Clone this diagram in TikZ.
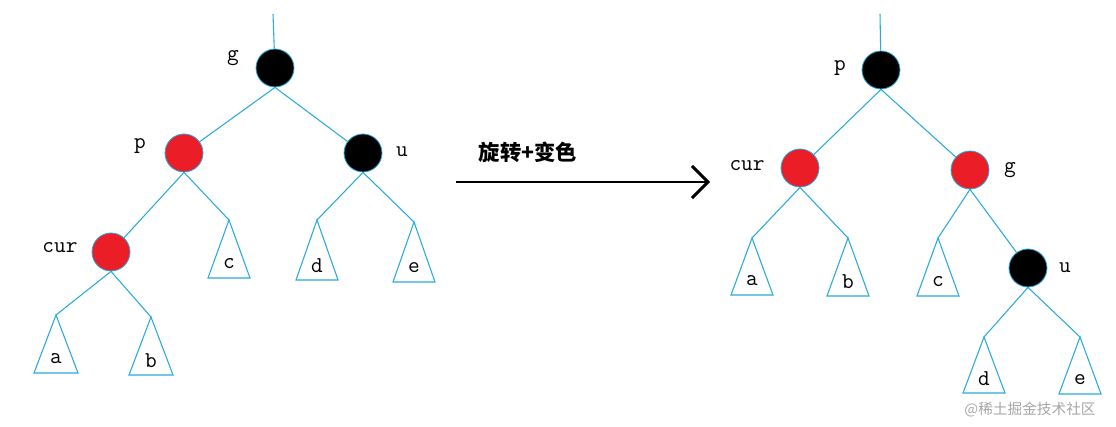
\documentclass[tikz,border=0pt]{standalone}
\usepackage{fontspec}
\newfontfamily\cjk{Noto Sans CJK SC}
\usetikzlibrary{arrows.meta}
\definecolor{ln}{RGB}{40,170,220}
\definecolor{rd}{RGB}{235,30,40}
\tikzset{x=0.75pt,y=-0.75pt,
 edge/.style={draw=ln,line width=0.8pt},
 blk/.style={circle,fill=black,draw=ln,line width=0.6pt,minimum size=28.5pt,inner sep=0pt},
 red/.style={circle,fill=rd,draw=ln,line width=0.6pt,minimum size=28.5pt,inner sep=0pt},
 lab/.style={font=\ttfamily\fontsize{17}{17}\selectfont,inner sep=0pt},
 tri/.style={draw=ln,line width=0.8pt}}
\newcommand{\mytri}[6]{% name, apex x, apex y, base y, half width, label
 \coordinate (#1) at (#2,#3);
 \draw[tri] (#1) -- (#2-#5,#4) -- (#2+#5,#4) -- cycle;
 \node[lab] (#1t) at (#2,#4-14) {#6};}
\begin{document}
\begin{tikzpicture}
\useasboundingbox (0,0) rectangle (1116,427);
% left tree
\coordinate (lt) at (273,14);
\node[blk] (g1) at (275,68) {};
\node[red] (p1) at (184,153) {};
\node[blk] (u1) at (363,153) {};
\node[red] (c1) at (111,252) {};
\mytri{ta1}{56}{315}{373}{22}{a}
\mytri{tb1}{151}{317}{375}{22}{b}
\mytri{tc1}{229}{220}{278}{21}{c}
\mytri{td1}{317}{220}{280}{21}{d}
\mytri{te1}{414}{222}{282}{21}{e}
\draw[edge] (lt) -- (g1);
\draw[edge] (g1.south) -- (p1) (g1.south) -- (u1);
\draw[edge] (p1.south) -- (c1) (p1.south) -- (tc1);
\draw[edge] (u1.south) -- (td1) (u1.south) -- (te1);
\draw[edge] (c1.south) -- (ta1) (c1.south) -- (tb1);
\node[lab] (lg1) at (233,58) {g};
\node[lab] (lp1) at (140,146) {p};
\node[lab] (lu1) at (402,152) {u};
\node[lab] (lc1) at (60,248) {cur};
% arrow
\coordinate (a0) at (456,182);
\coordinate (a1) at (710,182);
\draw[line width=2.2pt,-{Straight Barb[length=12pt,width=24pt,line width=2.2pt]}] (a0) -- (a1);
\node[font=\cjk\bfseries\fontsize{16}{16}\selectfont,inner sep=0pt] (rot) at (528,152) {旋转+变色};
% right tree
\coordinate (rt) at (880,14);
\node[blk] (p2) at (881,70) {};
\node[red] (c2) at (800,168) {};
\node[red] (g2) at (970,170) {};
\node[blk] (u2) at (1028,268) {};
\mytri{ta2}{752}{238}{295}{21}{a}
\mytri{tb2}{848}{238}{296}{21}{b}
\mytri{tc2}{938}{238}{296}{21}{c}
\mytri{td2}{984}{337}{393}{21}{d}
\mytri{te2}{1080}{337}{394}{21}{e}
\draw[edge] (rt) -- (p2);
\draw[edge] (p2.south) -- (c2) (p2.south) -- (g2);
\draw[edge] (c2.south) -- (ta2) (c2.south) -- (tb2);
\draw[edge] (g2.south) -- (tc2) (g2.south) -- (u2);
\draw[edge] (u2.south) -- (td2) (u2.south) -- (te2);
\node[lab] (lp2) at (840,68) {p};
\node[lab] (lc2) at (747,166) {cur};
\node[lab] (lg2) at (1010,170) {g};
\node[lab] (lu2) at (1065,268) {u};
\node[font=\cjk\fontsize{11}{11}\selectfont,text=black!35,inner sep=0pt] (wm) at (1030,410) {@稀土掘金技术社区};
\end{tikzpicture}
\end{document}
